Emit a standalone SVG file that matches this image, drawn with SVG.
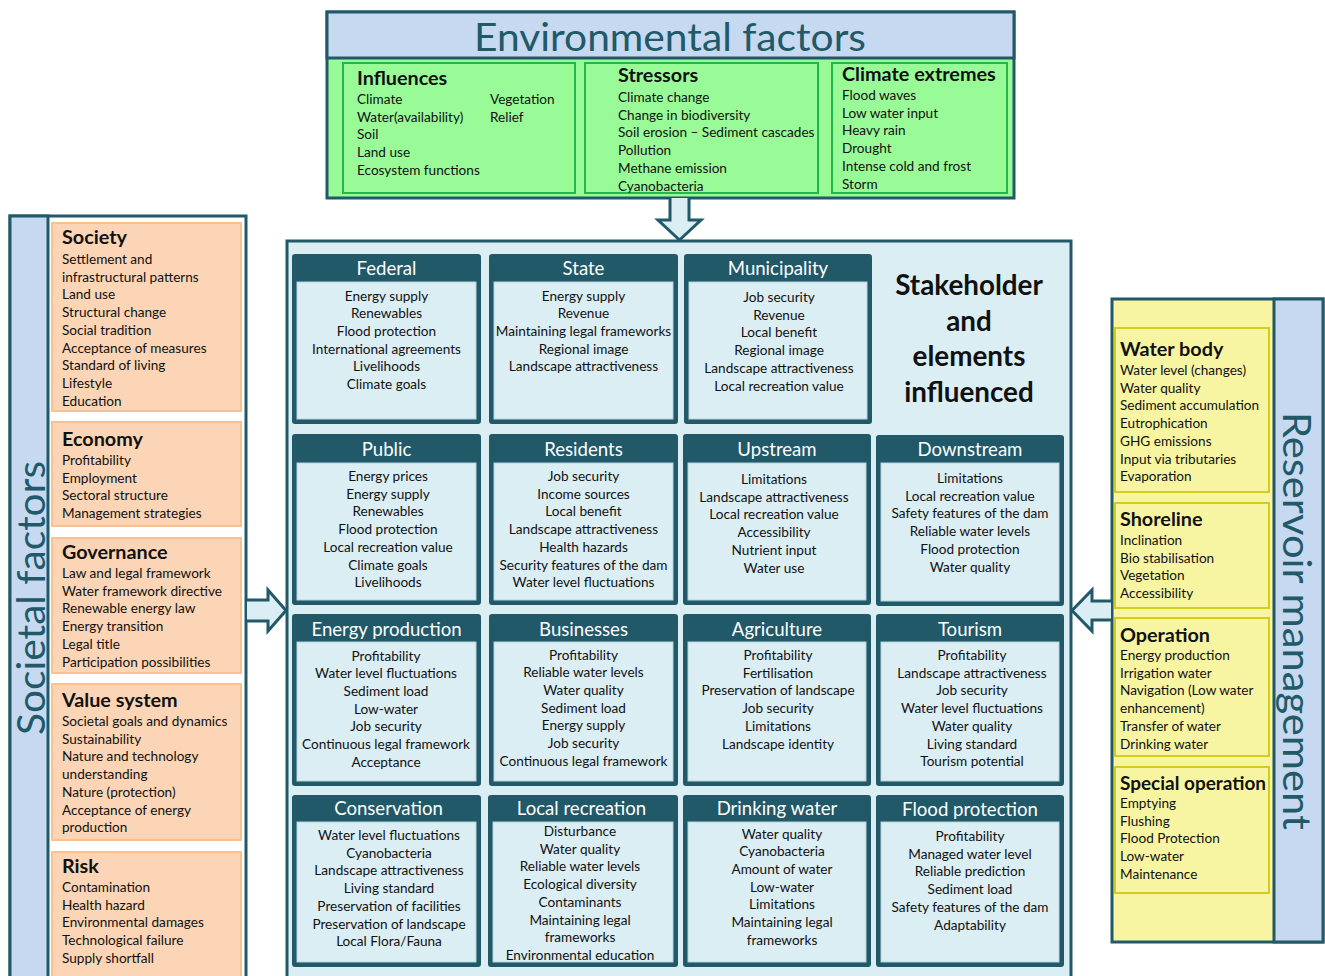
<svg xmlns="http://www.w3.org/2000/svg" width="1325" height="976" viewBox="0 0 1325 976">
<style>
text{font-family:Lato,"Open Sans","Liberation Sans",sans-serif;fill:#111}
.it{font-size:13.6px}
.ttl{font-size:19.8px;font-weight:bold}
.hd{font-size:18.6px;fill:#fff;text-anchor:middle}
.ci{font-size:13.6px;text-anchor:middle}
.sb{fill:#215968;stroke:#215968;stroke-width:2}
.bd{fill:#dbeef4;stroke:#b7d3dc;stroke-width:1}
.big{fill:#215968;font-weight:normal}
.org{fill:#fbd5b5;stroke:#fac090;stroke-width:2}
.yel{fill:#f8f5a2;stroke:#d4cc1a;stroke-width:2}
.grn{fill:#99fb97;stroke:#22b84a;stroke-width:2}
.arr{fill:#dbeef4;stroke:#215968;stroke-width:3;stroke-linejoin:miter}
</style>
<rect width="1325" height="976" fill="#fff"/>

<g id="environmental-factors">
<rect x="327" y="12" width="687" height="186" fill="#99fb97" stroke="#215968" stroke-width="3"/>
<rect x="327" y="12" width="687" height="46" fill="#c6d9f1" stroke="#215968" stroke-width="3"/>
<text x="670" y="51" class="big" font-size="39" text-anchor="middle" textLength="392" lengthAdjust="spacingAndGlyphs">Environmental factors</text>
<g id="influences">
<rect class="grn" x="343" y="63" width="232" height="130"/>
<text x="357" y="85" class="ttl">Influences</text>
<text class="it"><tspan x="357" y="104">Climate</tspan><tspan x="357" dy="17.7">Water(availability)</tspan><tspan x="357" dy="17.7">Soil</tspan><tspan x="357" dy="17.7">Land use</tspan><tspan x="357" dy="17.7">Ecosystem functions</tspan></text>
<text class="it"><tspan x="490" y="104">Vegetation</tspan><tspan x="490" dy="17.7">Relief</tspan></text>
</g>
<g id="stressors">
<rect class="grn" x="585" y="63" width="233" height="130"/>
<text x="618" y="82" class="ttl">Stressors</text>
<text class="it"><tspan x="618" y="102">Climate change</tspan><tspan x="618" dy="17.7">Change in biodiversity</tspan><tspan x="618" dy="17.7">Soil erosion – Sediment cascades</tspan><tspan x="618" dy="17.7">Pollution</tspan><tspan x="618" dy="17.7">Methane emission</tspan><tspan x="618" dy="17.7">Cyanobacteria</tspan></text>
</g>
<g id="climate-extremes">
<rect class="grn" x="832" y="63" width="175" height="130"/>
<text x="842" y="81" class="ttl">Climate extremes</text>
<text class="it"><tspan x="842" y="100">Flood waves</tspan><tspan x="842" dy="17.7">Low water input</tspan><tspan x="842" dy="17.7">Heavy rain</tspan><tspan x="842" dy="17.7">Drought</tspan><tspan x="842" dy="17.7">Intense cold and frost</tspan><tspan x="842" dy="17.7">Storm</tspan></text>
</g>
</g>

<g id="societal-factors">
<rect x="10" y="216" width="236" height="770" fill="#fff" stroke="#215968" stroke-width="3"/>
<rect x="10" y="216" width="38" height="770" fill="#c6d9f1" stroke="#215968" stroke-width="3"/>
<text transform="translate(45,598) rotate(-90)" class="big" font-size="38" text-anchor="middle" textLength="274" lengthAdjust="spacingAndGlyphs">Societal factors</text>
<g id="society">
<rect class="org" x="52" y="223" width="189" height="188"/>
<text x="62" y="244" class="ttl">Society</text>
<text class="it"><tspan x="62" y="264">Settlement and</tspan><tspan x="62" dy="17.7">infrastructural patterns</tspan><tspan x="62" dy="17.7">Land use</tspan><tspan x="62" dy="17.7">Structural change</tspan><tspan x="62" dy="17.7">Social tradition</tspan><tspan x="62" dy="17.7">Acceptance of measures</tspan><tspan x="62" dy="17.7">Standard of living</tspan><tspan x="62" dy="17.7">Lifestyle</tspan><tspan x="62" dy="17.7">Education</tspan></text>
</g>
<g id="economy">
<rect class="org" x="52" y="422" width="189" height="104"/>
<text x="62" y="446" class="ttl">Economy</text>
<text class="it"><tspan x="62" y="465">Profitability</tspan><tspan x="62" dy="17.7">Employment</tspan><tspan x="62" dy="17.7">Sectoral structure</tspan><tspan x="62" dy="17.7">Management strategies</tspan></text>
</g>
<g id="governance">
<rect class="org" x="52" y="538" width="189" height="135"/>
<text x="62" y="559" class="ttl">Governance</text>
<text class="it"><tspan x="62" y="578">Law and legal framework</tspan><tspan x="62" dy="17.7">Water framework directive</tspan><tspan x="62" dy="17.7">Renewable energy law</tspan><tspan x="62" dy="17.7">Energy transition</tspan><tspan x="62" dy="17.7">Legal title</tspan><tspan x="62" dy="17.7">Participation possibilities</tspan></text>
</g>
<g id="value-system">
<rect class="org" x="52" y="684" width="189" height="156"/>
<text x="62" y="707" class="ttl">Value system</text>
<text class="it"><tspan x="62" y="726">Societal goals and dynamics</tspan><tspan x="62" dy="17.7">Sustainability</tspan><tspan x="62" dy="17.7">Nature and technology</tspan><tspan x="62" dy="17.7">understanding</tspan><tspan x="62" dy="17.7">Nature (protection)</tspan><tspan x="62" dy="17.7">Acceptance of energy</tspan><tspan x="62" dy="17.7">production</tspan></text>
</g>
<g id="risk">
<rect class="org" x="52" y="852" width="189" height="130"/>
<text x="62" y="873" class="ttl">Risk</text>
<text class="it"><tspan x="62" y="892">Contamination</tspan><tspan x="62" dy="17.7">Health hazard</tspan><tspan x="62" dy="17.7">Environmental damages</tspan><tspan x="62" dy="17.7">Technological failure</tspan><tspan x="62" dy="17.7">Supply shortfall</tspan></text>
</g>
</g>

<g id="reservoir-management">
<rect x="1112" y="299" width="211" height="643" fill="#f8f5a2" stroke="#215968" stroke-width="3"/>
<rect x="1274" y="299" width="49" height="643" fill="#c6d9f1" stroke="#215968" stroke-width="3"/>
<text transform="translate(1283,621) rotate(90)" class="big" font-size="38" text-anchor="middle" textLength="418" lengthAdjust="spacingAndGlyphs">Reservoir management</text>
<g id="water-body">
<rect class="yel" x="1115" y="328" width="154" height="164"/>
<text x="1120" y="356" class="ttl">Water body</text>
<text class="it"><tspan x="1120" y="375">Water level (changes)</tspan><tspan x="1120" dy="17.7">Water quality</tspan><tspan x="1120" dy="17.7">Sediment accumulation</tspan><tspan x="1120" dy="17.7">Eutrophication</tspan><tspan x="1120" dy="17.7">GHG emissions</tspan><tspan x="1120" dy="17.7">Input via tributaries</tspan><tspan x="1120" dy="17.7">Evaporation</tspan></text>
</g>
<g id="shoreline">
<rect class="yel" x="1115" y="503" width="154" height="105"/>
<text x="1120" y="526" class="ttl">Shoreline</text>
<text class="it"><tspan x="1120" y="545">Inclination</tspan><tspan x="1120" dy="17.7">Bio stabilisation</tspan><tspan x="1120" dy="17.7">Vegetation</tspan><tspan x="1120" dy="17.7">Accessibility</tspan></text>
</g>
<g id="operation">
<rect class="yel" x="1115" y="618" width="154" height="138"/>
<text x="1120" y="642" class="ttl">Operation</text>
<text class="it"><tspan x="1120" y="660">Energy production</tspan><tspan x="1120" dy="17.7">Irrigation water</tspan><tspan x="1120" dy="17.7">Navigation (Low water</tspan><tspan x="1120" dy="17.7">enhancement)</tspan><tspan x="1120" dy="17.7">Transfer of water</tspan><tspan x="1120" dy="17.7">Drinking water</tspan></text>
</g>
<g id="special-operation">
<rect class="yel" x="1115" y="767" width="154" height="126"/>
<text x="1120" y="790" class="ttl" textLength="146" lengthAdjust="spacingAndGlyphs">Special operation</text>
<text class="it"><tspan x="1120" y="808">Emptying</tspan><tspan x="1120" dy="17.7">Flushing</tspan><tspan x="1120" dy="17.7">Flood Protection</tspan><tspan x="1120" dy="17.7">Low-water</tspan><tspan x="1120" dy="17.7">Maintenance</tspan></text>
</g>
</g>

<g id="stakeholders">
<rect x="287" y="241" width="784" height="745" fill="#dbeef4" stroke="#215968" stroke-width="3"/>
<text x="969" y="295" font-size="27.8" font-weight="bold" text-anchor="middle"><tspan x="969">Stakeholder</tspan><tspan x="969" dy="35.5">and</tspan><tspan x="969" dy="35.5">elements</tspan><tspan x="969" dy="35.5">influenced</tspan></text>

<g id="federal"><rect class="sb" x="293" y="255" width="187" height="168" rx="2"/><rect class="bd" x="297" y="282" width="179" height="137"/>
<text x="386.5" y="275" class="hd">Federal</text>
<text class="ci"><tspan x="386.5" y="300.5">Energy supply</tspan><tspan x="386.5" dy="17.7">Renewables</tspan><tspan x="386.5" dy="17.7">Flood protection</tspan><tspan x="386.5" dy="17.7">International agreements</tspan><tspan x="386.5" dy="17.7">Livelihoods</tspan><tspan x="386.5" dy="17.7">Climate goals</tspan></text></g>

<g id="state"><rect class="sb" x="490" y="255" width="187" height="168" rx="2"/><rect class="bd" x="494" y="282" width="179" height="137"/>
<text x="583.5" y="275" class="hd">State</text>
<text class="ci"><tspan x="583.5" y="300.5">Energy supply</tspan><tspan x="583.5" dy="17.7">Revenue</tspan><tspan x="583.5" dy="17.7">Maintaining legal frameworks</tspan><tspan x="583.5" dy="17.7">Regional image</tspan><tspan x="583.5" dy="17.7">Landscape attractiveness</tspan></text></g>

<g id="municipality"><rect class="sb" x="685" y="255" width="186" height="168" rx="2"/><rect class="bd" x="689" y="282" width="178" height="137"/>
<text x="778" y="275" class="hd">Municipality</text>
<text class="ci"><tspan x="779" y="302">Job security</tspan><tspan x="779" dy="17.7">Revenue</tspan><tspan x="779" dy="17.7">Local benefit</tspan><tspan x="779" dy="17.7">Regional image</tspan><tspan x="779" dy="17.7">Landscape attractiveness</tspan><tspan x="779" dy="17.7">Local recreation value</tspan></text></g>

<g id="public"><rect class="sb" x="293" y="435" width="187" height="169" rx="2"/><rect class="bd" x="297" y="463" width="179" height="137"/>
<text x="386.5" y="456" class="hd">Public</text>
<text class="ci"><tspan x="388" y="481">Energy prices</tspan><tspan x="388" dy="17.7">Energy supply</tspan><tspan x="388" dy="17.7">Renewables</tspan><tspan x="388" dy="17.7">Flood protection</tspan><tspan x="388" dy="17.7">Local recreation value</tspan><tspan x="388" dy="17.7">Climate goals</tspan><tspan x="388" dy="17.7">Livelihoods</tspan></text></g>

<g id="residents"><rect class="sb" x="490" y="435" width="187" height="169" rx="2"/><rect class="bd" x="494" y="463" width="179" height="137"/>
<text x="583.5" y="456" class="hd">Residents</text>
<text class="ci"><tspan x="583.5" y="481">Job security</tspan><tspan x="583.5" dy="17.7">Income sources</tspan><tspan x="583.5" dy="17.7">Local benefit</tspan><tspan x="583.5" dy="17.7">Landscape attractiveness</tspan><tspan x="583.5" dy="17.7">Health hazards</tspan><tspan x="583.5" dy="17.7">Security features of the dam</tspan><tspan x="583.5" dy="17.7">Water level fluctuations</tspan></text></g>

<g id="upstream"><rect class="sb" x="684" y="435" width="186" height="169" rx="2"/><rect class="bd" x="688" y="463" width="178" height="137"/>
<text x="777" y="456" class="hd">Upstream</text>
<text class="ci"><tspan x="774" y="484">Limitations</tspan><tspan x="774" dy="17.7">Landscape attractiveness</tspan><tspan x="774" dy="17.7">Local recreation value</tspan><tspan x="774" dy="17.7">Accessibility</tspan><tspan x="774" dy="17.7">Nutrient input</tspan><tspan x="774" dy="17.7">Water use</tspan></text></g>

<g id="downstream"><rect class="sb" x="877" y="436" width="186" height="169" rx="2"/><rect class="bd" x="881" y="463" width="178" height="138"/>
<text x="970" y="456" class="hd">Downstream</text>
<text class="ci"><tspan x="970" y="483">Limitations</tspan><tspan x="970" dy="17.7">Local recreation value</tspan><tspan x="970" dy="17.7">Safety features of the dam</tspan><tspan x="970" dy="17.7">Reliable water levels</tspan><tspan x="970" dy="17.7">Flood protection</tspan><tspan x="970" dy="17.7">Water quality</tspan></text></g>

<g id="energy-production"><rect class="sb" x="293" y="615" width="187" height="170" rx="2"/><rect class="bd" x="297" y="642" width="179" height="139"/>
<text x="386.5" y="636" class="hd">Energy production</text>
<text class="ci"><tspan x="386" y="660.5">Profitability</tspan><tspan x="386" dy="17.7">Water level fluctuations</tspan><tspan x="386" dy="17.7">Sediment load</tspan><tspan x="386" dy="17.7">Low-water</tspan><tspan x="386" dy="17.7">Job security</tspan><tspan x="386" dy="17.7">Continuous legal framework</tspan><tspan x="386" dy="17.7">Acceptance</tspan></text></g>

<g id="businesses"><rect class="sb" x="490" y="615" width="187" height="170" rx="2"/><rect class="bd" x="494" y="642" width="179" height="139"/>
<text x="583.5" y="636" class="hd">Businesses</text>
<text class="ci"><tspan x="583.5" y="659.5">Profitability</tspan><tspan x="583.5" dy="17.7">Reliable water levels</tspan><tspan x="583.5" dy="17.7">Water quality</tspan><tspan x="583.5" dy="17.7">Sediment load</tspan><tspan x="583.5" dy="17.7">Energy supply</tspan><tspan x="583.5" dy="17.7">Job security</tspan><tspan x="583.5" dy="17.7">Continuous legal framework</tspan></text></g>

<g id="agriculture"><rect class="sb" x="684" y="615" width="186" height="170" rx="2"/><rect class="bd" x="688" y="642" width="178" height="139"/>
<text x="777" y="636" class="hd">Agriculture</text>
<text class="ci"><tspan x="778" y="660">Profitability</tspan><tspan x="778" dy="17.7">Fertilisation</tspan><tspan x="778" dy="17.7">Preservation of landscape</tspan><tspan x="778" dy="17.7">Job security</tspan><tspan x="778" dy="17.7">Limitations</tspan><tspan x="778" dy="17.7">Landscape identity</tspan></text></g>

<g id="tourism"><rect class="sb" x="877" y="615" width="186" height="170" rx="2"/><rect class="bd" x="881" y="642" width="178" height="139"/>
<text x="970" y="636" class="hd">Tourism</text>
<text class="ci"><tspan x="972" y="660">Profitability</tspan><tspan x="972" dy="17.7">Landscape attractiveness</tspan><tspan x="972" dy="17.7">Job security</tspan><tspan x="972" dy="17.7">Water level fluctuations</tspan><tspan x="972" dy="17.7">Water quality</tspan><tspan x="972" dy="17.7">Living standard</tspan><tspan x="972" dy="17.7">Tourism potential</tspan></text></g>

<g id="conservation"><rect class="sb" x="293" y="796" width="187" height="170" rx="2"/><rect class="bd" x="297" y="822" width="179" height="140"/>
<text x="388.5" y="815" class="hd">Conservation</text>
<text class="ci"><tspan x="389" y="840">Water level fluctuations</tspan><tspan x="389" dy="17.7">Cyanobacteria</tspan><tspan x="389" dy="17.7">Landscape attractiveness</tspan><tspan x="389" dy="17.7">Living standard</tspan><tspan x="389" dy="17.7">Preservation of facilities</tspan><tspan x="389" dy="17.7">Preservation of landscape</tspan><tspan x="389" dy="17.7">Local Flora/Fauna</tspan></text></g>

<g id="local-recreation"><rect class="sb" x="489" y="796" width="188" height="170" rx="2"/><rect class="bd" x="493" y="822" width="180" height="140"/>
<text x="581.5" y="815" class="hd">Local recreation</text>
<text class="ci"><tspan x="580" y="836">Disturbance</tspan><tspan x="580" dy="17.7">Water quality</tspan><tspan x="580" dy="17.7">Reliable water levels</tspan><tspan x="580" dy="17.7">Ecological diversity</tspan><tspan x="580" dy="17.7">Contaminants</tspan><tspan x="580" dy="17.7">Maintaining legal</tspan><tspan x="580" dy="17.7">frameworks</tspan><tspan x="580" dy="17.7">Environmental education</tspan></text></g>

<g id="drinking-water"><rect class="sb" x="684" y="796" width="186" height="170" rx="2"/><rect class="bd" x="688" y="822" width="178" height="140"/>
<text x="777" y="815" class="hd">Drinking water</text>
<text class="ci"><tspan x="782" y="838.5">Water quality</tspan><tspan x="782" dy="17.7">Cyanobacteria</tspan><tspan x="782" dy="17.7">Amount of water</tspan><tspan x="782" dy="17.7">Low-water</tspan><tspan x="782" dy="17.7">Limitations</tspan><tspan x="782" dy="17.7">Maintaining legal</tspan><tspan x="782" dy="17.7">frameworks</tspan></text></g>

<g id="flood-protection"><rect class="sb" x="877" y="796" width="186" height="170" rx="2"/><rect class="bd" x="881" y="822" width="178" height="140"/>
<text x="970" y="816" class="hd">Flood protection</text>
<text class="ci"><tspan x="970" y="841">Profitability</tspan><tspan x="970" dy="17.7">Managed water level</tspan><tspan x="970" dy="17.7">Reliable prediction</tspan><tspan x="970" dy="17.7">Sediment load</tspan><tspan x="970" dy="17.7">Safety features of the dam</tspan><tspan x="970" dy="17.7">Adaptability</tspan></text></g>
</g>

<g id="connectors">
<path class="arr" d="M670,198 V220 H658 L679.5,240 L701,220 H689 V198"/>
<path class="arr" d="M247,600 H268 V590 L286,610.5 L268,631 V621 H247"/>
<path class="arr" d="M1111,601 H1092 V590 L1072,610.5 L1092,631 V620 H1111"/>
</g>
</svg>
